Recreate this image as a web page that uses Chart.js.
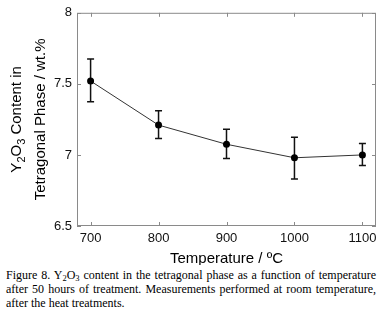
<!DOCTYPE html>
<html>
<head>
<meta charset="utf-8">
<script src="https://cdn.jsdelivr.net/npm/chart.js@4.4.1/dist/chart.umd.min.js"></script>
<style>
  html, body { margin: 0; padding: 0; background: #fff; }
  #wrap { position: relative; width: 386px; height: 265px; }
  #cap {
    position: absolute; left: 6px; top: 268px; width: 370px;
    font: 12px "Liberation Serif", "Times New Roman", serif;
    line-height: 14px; text-align: justify; color: #000;
  }
  #cap .sub { font-size: 8.5px; vertical-align: -2px; line-height: 0; }
</style>
</head>
<body>
<div id="wrap"><canvas id="chart"></canvas></div>
<div id="cap">Figure 8. Y<span class="sub">2</span>O<span class="sub">3</span> content in the tetragonal phase as a function of temperature after 50 hours of treatment. Measurements performed at room temperature, after the heat treatments.</div>
<script>
const temps = [700, 800, 900, 1000, 1100];
const y2o3 = [7.52, 7.21, 7.075, 6.98, 7.0];
const errHigh = [7.675, 7.31, 7.18, 7.125, 7.08];
const errLow = [7.375, 7.115, 6.975, 6.83, 6.925];
const xTicks = [700, 800, 900, 1000, 1100];
const yTicks = [6.5, 7, 7.5, 8];

const FONT = '"Liberation Sans", Arial, sans-serif';

// error bars, frame with inward ticks on all sides, axis titles
const decor = {
  id: 'decor',
  beforeDatasetsDraw(chart) {
    const { ctx, chartArea: a, scales: { x, y } } = chart;
    ctx.save();
    // frame
    ctx.strokeStyle = '#8a8a8a';
    ctx.lineWidth = 1;
    ctx.strokeRect(a.left + 0.5, a.top + 0.5, a.right - a.left - 1, a.bottom - a.top - 1);
    ctx.beginPath();
    xTicks.forEach(v => {
      const px = Math.round(x.getPixelForValue(v)) + 0.5;
      ctx.moveTo(px, a.bottom); ctx.lineTo(px, a.bottom - 4);
      ctx.moveTo(px, a.top); ctx.lineTo(px, a.top + 4);
    });
    yTicks.forEach(v => {
      const py = Math.round(y.getPixelForValue(v)) + 0.5;
      ctx.moveTo(a.left, py); ctx.lineTo(a.left + 4, py);
      ctx.moveTo(a.right, py); ctx.lineTo(a.right - 4, py);
    });
    ctx.stroke();
    // error bars
    ctx.strokeStyle = '#111';
    ctx.lineWidth = 1.5;
    ctx.beginPath();
    temps.forEach((t, i) => {
      const px = x.getPixelForValue(t);
      const hi = y.getPixelForValue(errHigh[i]);
      const lo = y.getPixelForValue(errLow[i]);
      ctx.moveTo(px, hi); ctx.lineTo(px, lo);
      ctx.moveTo(px - 3.5, hi); ctx.lineTo(px + 3.5, hi);
      ctx.moveTo(px - 3.5, lo); ctx.lineTo(px + 3.5, lo);
    });
    ctx.stroke();
    ctx.restore();
  },
  afterDraw(chart) {
    const { ctx, chartArea: a } = chart;
    ctx.save();
    ctx.fillStyle = '#000';
    ctx.textBaseline = 'alphabetic';
    // x title
    ctx.font = '15px ' + FONT;
    ctx.textAlign = 'center';
    ctx.fillText('Temperature / \u00baC', (a.left + a.right) / 2, 263);
    // y title, two lines, with subscripts
    const cy = (a.top + a.bottom) / 2;
    const line1 = [['Y', 0], ['2', 1], ['O', 0], ['3', 1], [' Content in', 0]];
    const line2 = [['Tetragonal Phase / wt.%', 0]];
    const drawLine = (parts, bx) => {
      ctx.save();
      ctx.translate(bx, cy);
      ctx.rotate(-Math.PI / 2);
      ctx.textAlign = 'left';
      let w = 0;
      parts.forEach(([t, s]) => {
        ctx.font = (s ? '11px ' : '15px ') + FONT;
        w += ctx.measureText(t).width;
      });
      let cx = -w / 2;
      parts.forEach(([t, s]) => {
        ctx.font = (s ? '11px ' : '15px ') + FONT;
        ctx.fillText(t, cx, s ? 4 : 0);
        cx += ctx.measureText(t).width;
      });
      ctx.restore();
    };
    drawLine(line1, 21);
    drawLine(line2, 45);
    ctx.restore();
  }
};

new Chart(document.getElementById('chart'), {
  type: 'line',
  data: {
    datasets: [{
      data: temps.map((t, i) => ({ x: t, y: y2o3[i] })),
      borderColor: '#333',
      borderWidth: 1,
      pointRadius: 3.5,
      pointBackgroundColor: '#000',
      pointBorderWidth: 0,
      tension: 0
    }]
  },
  options: {
    responsive: true,
    maintainAspectRatio: false,
    animation: false,
    layout: { padding: { top: 8, right: 10, left: 0, bottom: 0 } },
    plugins: { legend: { display: false }, tooltip: { enabled: false } },
    scales: {
      x: {
        type: 'linear', min: 680, max: 1120,
        afterBuildTicks: s => { s.ticks = xTicks.map(v => ({ value: v })); },
        afterFit: s => { s.height = 39; },
        grid: { display: false, drawTicks: false },
        border: { display: false },
        ticks: { padding: 5, color: '#111', font: { family: FONT, size: 13 }, callback: v => String(v) }
      },
      y: {
        min: 6.5, max: 8,
        afterBuildTicks: s => { s.ticks = yTicks.map(v => ({ value: v })); },
        afterFit: s => { s.width = 77; },
        grid: { display: false, drawTicks: false },
        border: { display: false },
        ticks: { padding: 5, color: '#111', font: { family: FONT, size: 13 }, callback: v => String(v) }
      }
    }
  },
  plugins: [decor]
});
</script>
</body>
</html>
